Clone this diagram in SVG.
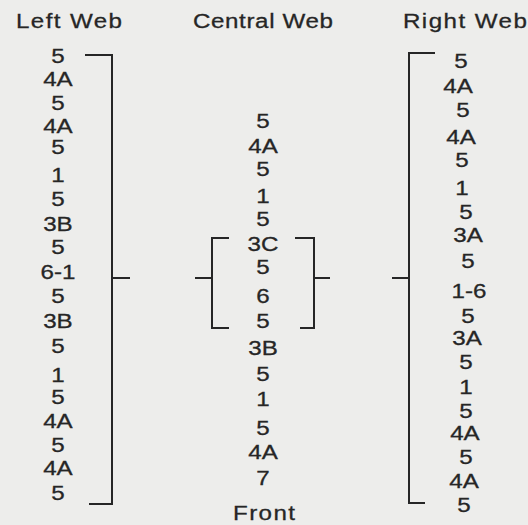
<svg xmlns="http://www.w3.org/2000/svg" width="528" height="525" viewBox="0 0 528 525">
<style>
  text { font-family: "Liberation Sans", Arial, sans-serif; font-size: 21px; fill: #262626; stroke: #262626; stroke-width: 0.3; }
  .it { text-anchor: middle; }
  .br { fill: none; stroke: #262626; stroke-width: 2; }
</style>
<rect x="0" y="0" width="528" height="525" fill="#ededeb"/>
<g id="titles" transform="scale(1.15 1)">
  <text x="13.9" y="28" textLength="92.2" lengthAdjust="spacing">Left Web</text>
  <text x="167.8" y="28" textLength="121.7" lengthAdjust="spacing">Central Web</text>
  <text x="350.4" y="28" textLength="107.8" lengthAdjust="spacing">Right Web</text>
</g>
<g id="left-web" transform="scale(1.15 1)">
  <text class="it" x="50.4" y="63.5">5</text>
  <text class="it" x="50.4" y="86.5">4A</text>
  <text class="it" x="50.4" y="110.5">5</text>
  <text class="it" x="50.4" y="133.5">4A</text>
  <text class="it" x="50.4" y="154.5">5</text>
  <text class="it" x="50.4" y="182.5">1</text>
  <text class="it" x="50.4" y="206.5">5</text>
  <text class="it" x="50.4" y="231.5">3B</text>
  <text class="it" x="50.4" y="254.5">5</text>
  <text class="it" x="50.4" y="279.5">6-1</text>
  <text class="it" x="50.4" y="303.5">5</text>
  <text class="it" x="50.4" y="328.5">3B</text>
  <text class="it" x="50.4" y="353.5">5</text>
  <text class="it" x="50.4" y="382.5">1</text>
  <text class="it" x="50.4" y="404.5">5</text>
  <text class="it" x="50.4" y="428.5">4A</text>
  <text class="it" x="50.4" y="452.5">5</text>
  <text class="it" x="50.4" y="475.5">4A</text>
  <text class="it" x="50.4" y="500.5">5</text>
</g>
<g id="central-web" transform="scale(1.15 1)">
  <text class="it" x="228.7" y="128.5">5</text>
  <text class="it" x="228.7" y="153.5">4A</text>
  <text class="it" x="228.7" y="176.5">5</text>
  <text class="it" x="228.7" y="203.5">1</text>
  <text class="it" x="228.7" y="226.5">5</text>
  <text class="it" x="228.7" y="251.5">3C</text>
  <text class="it" x="228.7" y="274.5">5</text>
  <text class="it" x="228.7" y="303.5">6</text>
  <text class="it" x="228.7" y="328.5">5</text>
  <text class="it" x="228.7" y="355.5">3B</text>
  <text class="it" x="228.7" y="381.5">5</text>
  <text class="it" x="228.7" y="406.5">1</text>
  <text class="it" x="228.7" y="435.5">5</text>
  <text class="it" x="228.7" y="459.5">4A</text>
  <text class="it" x="228.7" y="485.5">7</text>
  <text x="202.6" y="520" textLength="53.9" lengthAdjust="spacing">Front</text>
</g>
<g id="right-web" transform="scale(1.15 1)">
  <text class="it" x="400.9" y="68.5">5</text>
  <text class="it" x="398.3" y="93.5">4A</text>
  <text class="it" x="402.6" y="117.5">5</text>
  <text class="it" x="400.9" y="144.5">4A</text>
  <text class="it" x="401.7" y="167.5">5</text>
  <text class="it" x="401.7" y="195.5">1</text>
  <text class="it" x="405.2" y="219.5">5</text>
  <text class="it" x="407.0" y="242.5">3A</text>
  <text class="it" x="407.0" y="268.5">5</text>
  <text class="it" x="407.8" y="298.5">1-6</text>
  <text class="it" x="407.0" y="323.5">5</text>
  <text class="it" x="406.1" y="345.5">3A</text>
  <text class="it" x="405.2" y="369.5">5</text>
  <text class="it" x="405.2" y="394.5">1</text>
  <text class="it" x="405.2" y="418.5">5</text>
  <text class="it" x="404.3" y="440.5">4A</text>
  <text class="it" x="405.2" y="464.5">5</text>
  <text class="it" x="403.5" y="488.5">4A</text>
  <text class="it" x="403.5" y="512.5">5</text>
</g>
<g id="connectors">
  <path class="br" d="M85,55 H112 V504 H89"/>
  <path class="br" d="M112,278 H130"/>
  <path class="br" d="M229,238 H212 V328 H229"/>
  <path class="br" d="M195,278 H212"/>
  <path class="br" d="M295,238 H314 V328 H300"/>
  <path class="br" d="M314,278 H330"/>
  <path class="br" d="M435,53 H409 V503 H425"/>
  <path class="br" d="M392,278 H409"/>
</g>
</svg>
